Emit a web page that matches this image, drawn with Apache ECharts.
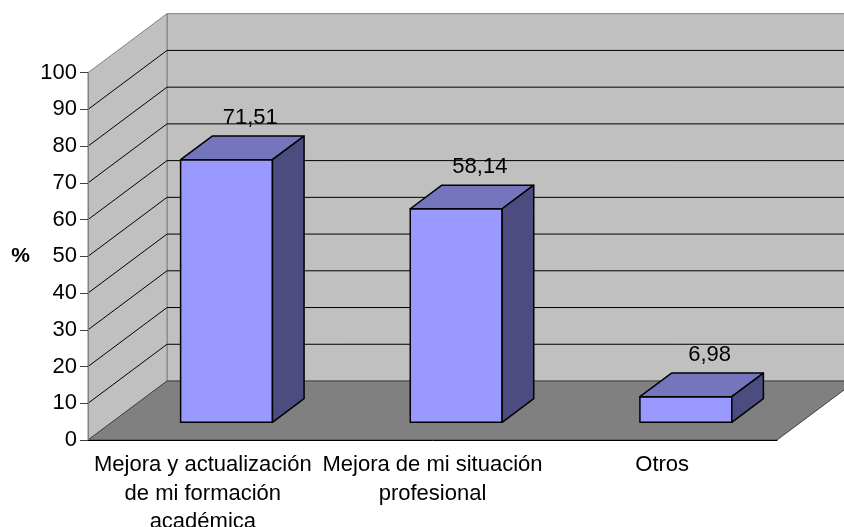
<!DOCTYPE html>
<html>
<head>
<meta charset="utf-8">
<script src="https://cdn.jsdelivr.net/npm/echarts@6/dist/echarts.min.js"></script>
<style>
  html, body { margin: 0; padding: 0; background: #fff; }
  #chart { width: 844px; height: 527px; }
</style>
</head>
<body>
<div id="chart"></div>
<script>
// datos
const categories = [
  'Mejora y actualización\nde mi formación\nacadémica',
  'Mejora de mi situación\nprofesional',
  'Otros'
];
const values = [71.51, 58.14, 6.98];
const yTicks = [0, 10, 20, 30, 40, 50, 60, 70, 80, 90, 100];

// perspectiva (profundidad del gráfico 3D)
const DX = 79, DY = -59;
const FONT = '"Liberation Sans", Arial, sans-serif';

// paredes, suelo y líneas de división
function renderWalls(params, api) {
  const cs = params.coordSys;
  const x0 = cs.x, x1 = cs.x + cs.width;
  const yBot = api.coord([0, 0])[1];
  const yTop = api.coord([0, yTicks[yTicks.length - 1]])[1];
  const children = [];
  // pared trasera
  children.push({ type: 'polygon', shape: { points: [
      [x0 + DX, yTop + DY], [x1 + DX, yTop + DY], [x1 + DX, yBot + DY], [x0 + DX, yBot + DY]] },
    style: { fill: '#c0c0c0', stroke: '#808080', lineWidth: 1 } });
  // pared lateral
  children.push({ type: 'polygon', shape: { points: [
      [x0, yTop], [x0 + DX, yTop + DY], [x0 + DX, yBot + DY], [x0, yBot]] },
    style: { fill: '#c0c0c0', stroke: '#808080', lineWidth: 1 } });
  // suelo
  children.push({ type: 'polygon', shape: { points: [
      [x0, yBot], [x0 + DX, yBot + DY], [x1 + DX, yBot + DY], [x1, yBot]] },
    style: { fill: '#808080', stroke: '#404040', lineWidth: 1 } });
  // líneas de división
  yTicks.forEach(function (t) {
    if (t === 0 || t === yTicks[yTicks.length - 1]) return;
    const y = api.coord([0, t])[1];
    children.push({ type: 'polyline', shape: { points: [
        [x0, y], [x0 + DX, y + DY], [x1 + DX, y + DY]] },
      style: { stroke: '#000', lineWidth: 1, fill: null } });
  });
  return { type: 'group', children: children };
}

// barras 3D
function renderBar(params, api) {
  const cat = api.value(0), v = api.value(1);
  const base = api.coord([cat, 0]);
  const top = api.coord([cat, v]);
  const w = api.size([1, 0])[0] * 0.4;
  const f0 = 0.3, f1 = 0.7;
  const xl = base[0] - w / 2 + f0 * DX, xr = xl + w;
  const yb = base[1] + f0 * DY, yt = top[1] + f0 * DY;
  const bx = (f1 - f0) * DX, by = (f1 - f0) * DY;
  const st = { stroke: '#000', lineWidth: 1.5, lineJoin: 'round' };
  return { type: 'group', children: [
    { type: 'polygon', shape: { points: [[xl, yt], [xr, yt], [xr, yb], [xl, yb]] },
      style: Object.assign({ fill: '#9999ff' }, st) },
    { type: 'polygon', shape: { points: [[xl, yt], [xl + bx, yt + by], [xr + bx, yt + by], [xr, yt]] },
      style: Object.assign({ fill: '#7575bd' }, st) },
    { type: 'polygon', shape: { points: [[xr, yt], [xr + bx, yt + by], [xr + bx, yb + by], [xr, yb]] },
      style: Object.assign({ fill: '#4c4c80' }, st) },
    { type: 'text', style: {
        text: v.toFixed(2).replace('.', ','),
        x: base[0] + 0.6 * DX, y: top[1] + 0.6 * DY - 24.5,
        align: 'center', verticalAlign: 'middle',
        font: '22px ' + FONT, fill: '#000' } }
  ] };
}

const chart = echarts.init(document.getElementById('chart'));
chart.setOption({
  animation: false,
  textStyle: { fontFamily: FONT },
  grid: { left: 88, right: 67, top: 72.7, bottom: 87, containLabel: false, outerBoundsMode: 'none' },
  xAxis: {
    type: 'category',
    data: categories,
    z: 10,
    axisLine: { lineStyle: { color: '#000', width: 1 } },
    axisTick: { length: 7, lineStyle: { color: '#808080' } },
    axisLabel: { color: '#000', fontSize: 22, lineHeight: 28.5, margin: 11, interval: 0 }
  },
  yAxis: {
    type: 'value',
    min: 0, max: 100, interval: 10,
    z: 10,
    name: '%',
    nameLocation: 'middle',
    nameRotate: 0,
    nameGap: 58,
    nameTextStyle: { color: '#000', fontSize: 21, fontWeight: 'bold' },
    axisLine: { show: true, lineStyle: { color: '#808080', width: 1 } },
    axisTick: { show: true, length: 8, lineStyle: { color: '#404040' } },
    axisLabel: { color: '#000', fontSize: 22, margin: 11 },
    splitLine: { show: false }
  },
  series: [
    {
      type: 'custom',
      silent: true,
      z: 1,
      renderItem: renderWalls,
      data: [[0, 0]]
    },
    {
      type: 'custom',
      silent: true,
      z: 2,
      renderItem: renderBar,
      data: values.map(function (v, i) { return [i, v]; })
    }
  ]
});
</script>
</body>
</html>
